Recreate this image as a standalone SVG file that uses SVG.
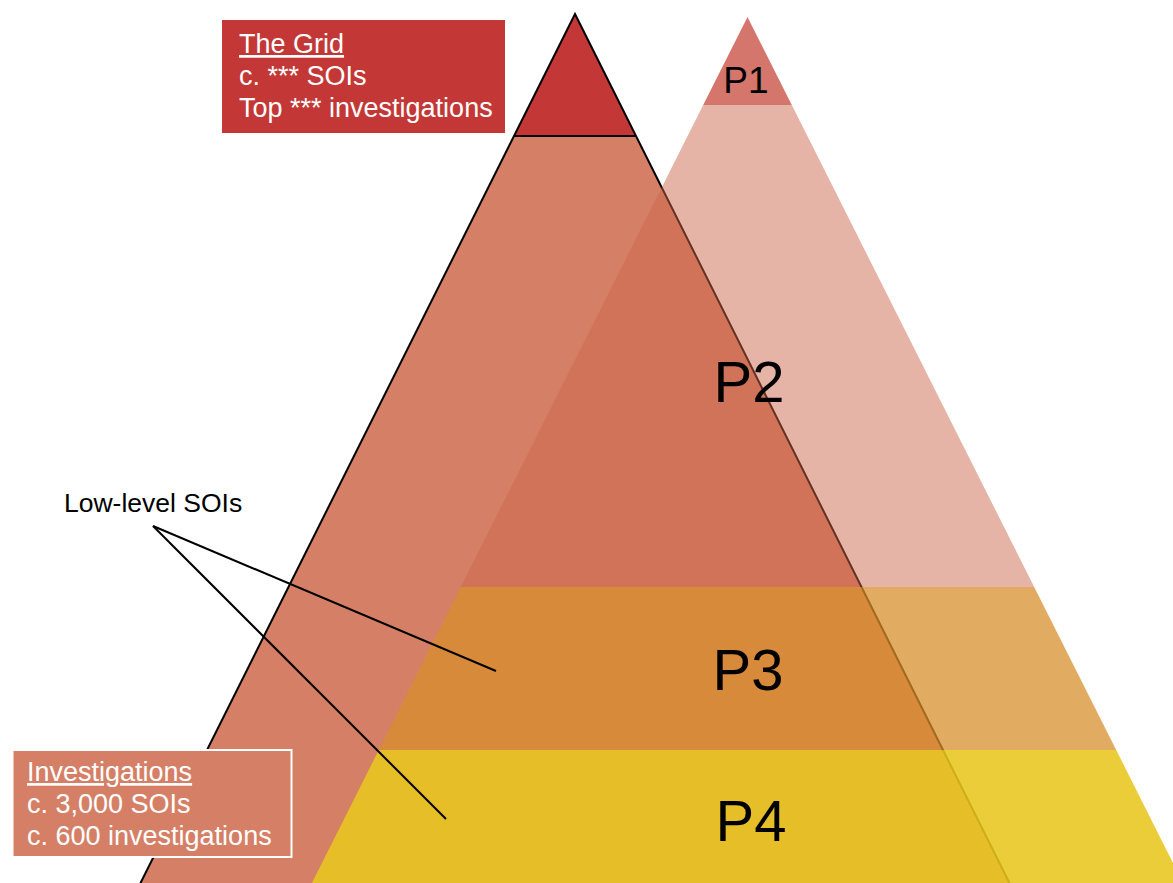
<svg xmlns="http://www.w3.org/2000/svg" width="1173" height="883" viewBox="0 0 1173 883">
<style>
.lbl{font-family:"Liberation Sans",Arial,Helvetica,sans-serif;}
.box{font-size:27px;fill:#ffffff;}
.p{fill:#000000;text-anchor:middle;}
.edge{fill:none;stroke:#000000;stroke-width:2;stroke-linejoin:miter;}
.conn{stroke:#000000;stroke-width:2;fill:none;}
</style>
<rect width="1173" height="883" fill="#ffffff"/>
<g id="left-pyramid">
  <polygon points="514,136 636,136 1018,900 132,900" fill="#d58066"/>
  <polygon points="575,14 636,136 514,136" fill="#c33836"/>
  <polygon class="edge" points="575,14 1018,900 132,900"/>
  <line class="edge" x1="514" y1="136" x2="636" y2="136"/>
</g>
<g id="right-pyramid">
  <g id="P1">
    <polygon points="747.5,17 791.8,105 703.2,105" fill="#d5766d"/>
    <text class="lbl p" x="746" y="93" font-size="37">P1</text>
  </g>
  <g id="P2">
    <polygon points="703.2,105 791.8,105 1034.2,587 460.8,587" fill="#cc664b" fill-opacity="0.49"/>
    <text class="lbl p" x="749" y="402" font-size="58">P2</text>
  </g>
  <g id="P3">
    <polygon points="460.8,587 1034.2,587 1116.2,750 378.8,750" fill="#d88e2b" fill-opacity="0.74"/>
    <text class="lbl p" x="748" y="690" font-size="58">P3</text>
  </g>
  <g id="P4">
    <polygon points="378.8,750 1116.2,750 1191.6,900 303.4,900" fill="#e8c61f" fill-opacity="0.88"/>
    <text class="lbl p" x="751" y="841" font-size="58">P4</text>
  </g>
</g>
<g id="grid-box">
  <rect x="222" y="20" width="283" height="113" fill="#c33836"/>
  <text class="lbl box" x="239" y="53" text-decoration="underline">The Grid</text>
  <text class="lbl box" x="239" y="85">c. *** SOIs</text>
  <text class="lbl box" x="239" y="117">Top *** investigations</text>
</g>
<g id="investigations-box">
  <rect x="12.5" y="750" width="279" height="107" fill="#d58066" stroke="#ffffff" stroke-width="2"/>
  <text class="lbl box" x="27" y="781" text-decoration="underline">Investigations</text>
  <text class="lbl box" x="27" y="813">c. 3,000 SOIs</text>
  <text class="lbl box" x="27" y="845">c. 600 investigations</text>
</g>
<g id="low-level-label">
  <text class="lbl" x="64" y="512" font-size="26.5" fill="#000000">Low-level SOIs</text>
</g>
<g id="connectors">
  <line class="conn" x1="153" y1="526" x2="496" y2="671"/>
  <line class="conn" x1="153" y1="526" x2="446" y2="819"/>
</g>
</svg>
